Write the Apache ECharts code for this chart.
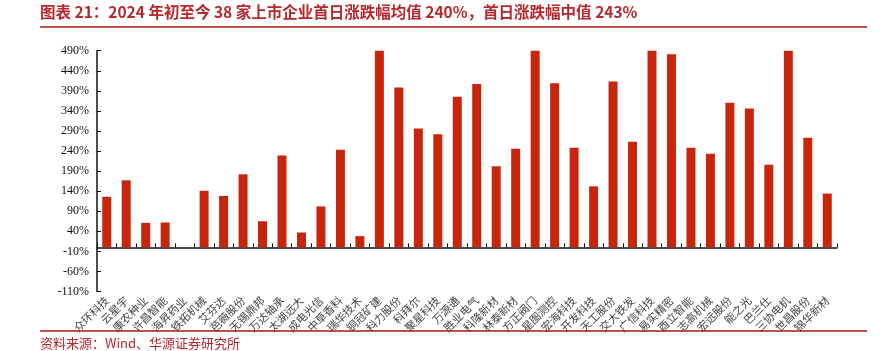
<!DOCTYPE html>
<html>
<head>
<meta charset="utf-8">
<script src="https://cdn.jsdelivr.net/npm/echarts@6/dist/echarts.min.js"></script>
<style>html,body{margin:0;padding:0;background:#fff}#c{width:880px;height:351px}</style>
</head>
<body>
<div id="c"></div>
<script>
var titleText = '图表 21：2024 年初至今 38 家上市企业首日涨跌幅均值 240%，首日涨跌幅中值 243%';
var sourceText = '资料来源：Wind、华源证券研究所';
var categories = ['众环科技','云星宇','康农种业','许昌智能','海昇药业','铁拓机械','艾芬达','芭薇股份','无锡鼎邦','万达轴承',
  '太湖远大','成电光信','中草香料','瑞华技术','铜冠矿建','科力股份','科拜尔','聚星科技','万源通','胜业电气',
  '科隆新材','林泰新材','方正阀门','星图测控','宏海科技','开发科技','天工股份','交大铁发','广信科技','易实精密',
  '酉立智能','志高机械','宏远股份','能之光','巴兰仕','三协电机','世昌股份','锦华新材'];
var firstDayChange = [126,167,61,62,0,141,128,182,65,229,
  37,102,243,28,490,398,296,282,375,407,
  202,246,490,409,248,152,413,263,490,481,
  248,233,360,346,206,490,273,134];
var yMin = -110, yMax = 490, yStep = 50;

var chart = echarts.init(document.getElementById('c'), null, {renderer: 'canvas'});
chart.setOption({
  animation: false,
  backgroundColor: '#fff',
  grid: {left: 97, right: 43, top: 50.7, bottom: 59.5, containLabel: false},
  xAxis: {
    type: 'category',
    data: categories,
    axisLine: {onZero: true, lineStyle: {color: '#111', width: 1.5}},
    axisTick: {show: true, inside: true, length: 4, alignWithLabel: false, lineStyle: {color: '#111'}},
    axisLabel: {interval: 0, rotate: 45, margin: 7, fontSize: 11, color: '#444',
      fontFamily: '"Noto Sans CJK SC", sans-serif'}
  },
  yAxis: {
    type: 'value',
    min: yMin, max: yMax, interval: yStep,
    splitLine: {show: false},
    axisLine: {show: true, lineStyle: {color: '#111', width: 1.5}},
    axisTick: {show: true, inside: true, length: 4, lineStyle: {color: '#111'}},
    axisLabel: {formatter: '{value}%', fontSize: 12, color: '#111', margin: 8,
      fontFamily: '"Liberation Serif", "Times New Roman", serif'}
  },
  series: [{
    type: 'bar',
    data: firstDayChange,
    barWidth: 9,
    itemStyle: {color: '#C8260C'}
  }],
  graphic: [
    {type: 'text', left: 40, top: 4, style: {text: titleText, fill: '#B8262B',
      font: 'bold 15.5px "Noto Sans CJK SC", sans-serif'}},
    {type: 'line', shape: {x1: 40, y1: 27, x2: 867, y2: 27}, style: {stroke: '#C0504D', lineWidth: 2}},
    {type: 'line', shape: {x1: 40, y1: 331, x2: 867, y2: 331}, style: {stroke: '#C0504D', lineWidth: 2}},
    {type: 'text', left: 40, top: 337, style: {text: sourceText, fill: '#B8262B',
      font: '13px "Noto Sans CJK SC", sans-serif'}}
  ]
});
</script>
</body>
</html>
